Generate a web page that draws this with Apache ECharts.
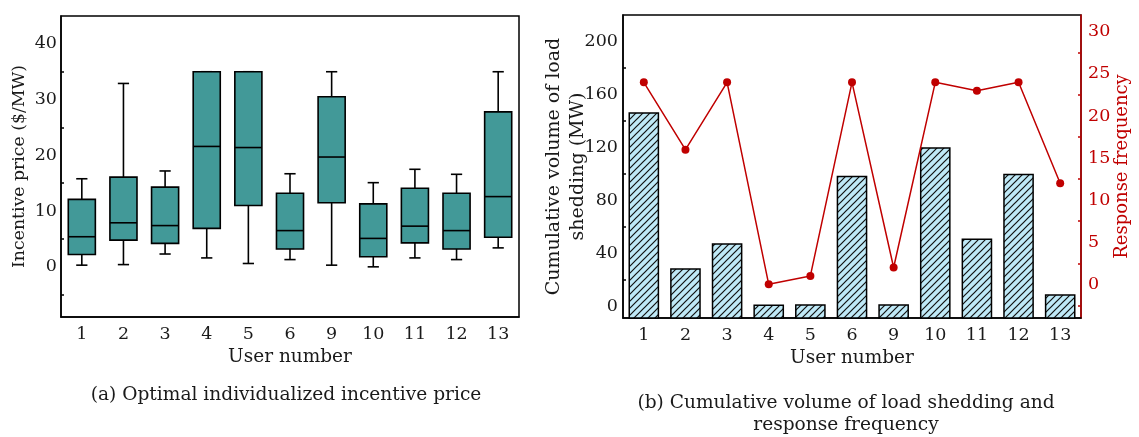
<!DOCTYPE html>
<html>
<head>
<meta charset="utf-8">
<script src="https://cdn.jsdelivr.net/npm/echarts@6/dist/echarts.min.js"></script>
<style>
  html, body { margin: 0; padding: 0; background: #fff; }
  #chart { width: 1139px; height: 437px; }
</style>
</head>
<body>
<div id="chart"></div>
<script>
// User categories shared by both panels
const users = ['1', '2', '3', '4', '5', '6', '9', '10', '11', '12', '13'];

// Panel (a): incentive price distribution per user ($/MW)
const priceLow    = [0.3, 0.4, 2.3, 1.6, 0.6, 1.3, 0.3, 0.0, 1.6, 1.3, 3.4];
const priceQ1     = [2.2, 4.8, 4.2, 6.9, 11.0, 3.2, 11.5, 1.8, 4.3, 3.2, 5.3];
const priceMedian = [5.4, 7.9, 7.4, 21.6, 21.4, 6.5, 19.7, 5.1, 7.3, 6.5, 12.6];
const priceQ3     = [12.1, 16.1, 14.3, 35.0, 35.0, 13.2, 30.5, 11.3, 14.1, 13.2, 27.8];
const priceHigh   = [15.8, 32.9, 17.2, 35.0, 35.0, 16.7, 35.0, 15.1, 17.5, 16.6, 35.0];

// Panel (b): cumulative load shedding (MW) and response frequency
const shedding  = [146, 28, 47, 0.6, 0.8, 98, 0.8, 119.5, 50.5, 99.5, 8.3];
const frequency = [24, 16, 24, 0, 1, 24, 2, 24, 23, 24, 12];

// Tick labels
const priceTicks      = [0, 10, 20, 30, 40];
const priceMinor      = [-5, 5, 15, 25, 35];
const sheddingTicks   = [0, 40, 80, 120, 160, 200];
const sheddingMinor   = [20, 60, 100, 140, 180];
const frequencyTicks  = [0, 5, 10, 15, 20, 25, 30];
const frequencyMinor  = [-2.5, 2.5, 7.5, 12.5, 17.5, 22.5, 27.5];

const FONT = 'DejaVu Serif';
const FS_TICK = 17.5;
const FS_NAME = 18.5;
const INK = '#1a1a1a';
const RED = '#c00000';
const TEAL = '#429998';
const BAR_BG = '#bfe9f7';

// Diagonal hatch pattern for the shedding bars
function makeHatch() {
  const s = 7;
  const c = document.createElement('canvas');
  c.width = s; c.height = s;
  const g = c.getContext('2d');
  g.fillStyle = BAR_BG;
  g.fillRect(0, 0, s, s);
  g.strokeStyle = '#111';
  g.lineWidth = 1.2;
  g.beginPath();
  g.moveTo(-1, s + 1); g.lineTo(s + 1, -1);
  g.moveTo(-1, 1); g.lineTo(1, -1);
  g.moveTo(s - 1, s + 1); g.lineTo(s + 1, s - 1);
  g.stroke();
  return { image: c, repeat: 'repeat' };
}
const hatch = makeHatch();

function renderBox(params, api) {
  const i = api.value(0);
  const lo = api.coord([i, api.value(1)]);
  const q1 = api.coord([i, api.value(2)]);
  const md = api.coord([i, api.value(3)]);
  const q3 = api.coord([i, api.value(4)]);
  const hi = api.coord([i, api.value(5)]);
  const band = api.size([1, 0])[0];
  const bw = band * 0.65;
  const cw = band * 0.27;
  const cx = lo[0];
  const ls = { stroke: '#000', lineWidth: 1.6 };
  return {
    type: 'group',
    children: [
      { type: 'line', shape: { x1: cx, y1: lo[1], x2: cx, y2: q1[1] }, style: ls },
      { type: 'line', shape: { x1: cx, y1: q3[1], x2: cx, y2: hi[1] }, style: ls },
      { type: 'line', shape: { x1: cx - cw / 2, y1: lo[1], x2: cx + cw / 2, y2: lo[1] }, style: ls },
      { type: 'line', shape: { x1: cx - cw / 2, y1: hi[1], x2: cx + cw / 2, y2: hi[1] }, style: ls },
      { type: 'rect', shape: { x: cx - bw / 2, y: q3[1], width: bw, height: q1[1] - q3[1] },
        style: { fill: TEAL, stroke: '#000', lineWidth: 1.6 } },
      { type: 'line', shape: { x1: cx - bw / 2, y1: md[1], x2: cx + bw / 2, y2: md[1] }, style: ls }
    ]
  };
}

function renderBar(params, api) {
  const i = api.value(0);
  const top = api.coord([i, api.value(1)]);
  const bottom = params.coordSys.y + params.coordSys.height;
  const bw = api.size([1, 0])[0] * 0.7;
  return {
    type: 'rect',
    shape: { x: top[0] - bw / 2, y: top[1], width: bw, height: bottom - top[1] },
    style: { fill: hatch, stroke: '#000', lineWidth: 1.5 }
  };
}

const tickStyle = { fontFamily: FONT, fontSize: FS_TICK, color: INK };
const nameStyle = { fontFamily: FONT, fontSize: FS_NAME, color: INK };

function catAxis(gridIndex) {
  return {
    type: 'category', gridIndex, data: users,
    name: 'User number', nameLocation: 'middle', nameGap: 29,
    nameTextStyle: nameStyle,
    axisLine: { onZero: false, lineStyle: { color: '#000', width: 1.5 } },
    axisTick: { inside: true, alignWithLabel: true, length: 5, lineStyle: { color: '#000', width: 1.5 } },
    axisLabel: Object.assign({ margin: 8 }, tickStyle),
    splitLine: { show: false }
  };
}

function minorAxis(gridIndex, position, min, max, values, color) {
  return {
    type: 'value', gridIndex, position, min, max,
    axisLine: { show: false },
    axisLabel: { show: false },
    axisTick: { show: true, inside: true, length: 3, customValues: values, lineStyle: { color, width: 1.5 } },
    splitLine: { show: false }
  };
}

const chart = echarts.init(document.getElementById('chart'));
chart.setOption({
  animation: false,
  grid: [
    { left: 61, right: 620, top: 16, bottom: 120, show: true, borderColor: '#000', borderWidth: 1.5 },
    { left: 623, right: 58, top: 15, bottom: 119, show: true, borderColor: '#000', borderWidth: 1.5 }
  ],
  xAxis: [catAxis(0), catAxis(1)],
  yAxis: [
    {
      type: 'value', gridIndex: 0, position: 'left', min: -9, max: 45,
      name: 'Incentive price ($/MW)', nameLocation: 'middle', nameGap: 33, nameRotate: 90,
      nameMoveOverlap: false,
      nameTextStyle: Object.assign({}, nameStyle, { fontSize: 17.3 }),
      axisLine: { show: true, onZero: false, lineStyle: { color: '#000', width: 1.5 } },
      axisTick: { inside: true, length: 5, customValues: priceTicks, lineStyle: { color: '#000', width: 1.5 } },
      axisLabel: Object.assign({ margin: 4, customValues: priceTicks }, tickStyle),
      splitLine: { show: false }
    },
    minorAxis(0, 'left', -9, 45, priceMinor, '#000'),
    {
      type: 'value', gridIndex: 1, position: 'left', min: -9, max: 220,
      name: 'Cumulative volume of load\nshedding (MW)', nameLocation: 'middle', nameGap: 33, nameRotate: 90,
      nameMoveOverlap: false,
      nameTextStyle: Object.assign({ lineHeight: 24 }, nameStyle, { fontSize: 19 }),
      axisLine: { show: true, onZero: false, lineStyle: { color: '#000', width: 1.5 } },
      axisTick: { inside: true, length: 5, customValues: sheddingTicks, lineStyle: { color: '#000', width: 1.5 } },
      axisLabel: Object.assign({ margin: 5, customValues: sheddingTicks }, tickStyle),
      splitLine: { show: false }
    },
    minorAxis(1, 'left', -9, 220, sheddingMinor, '#000'),
    {
      type: 'value', gridIndex: 1, position: 'right', min: -4, max: 32,
      name: 'Response frequency', nameLocation: 'middle', nameGap: 32, nameRotate: 90,
      nameMoveOverlap: false,
      nameTextStyle: Object.assign({}, nameStyle, { color: RED, fontSize: 18 }),
      axisLine: { show: true, onZero: false, lineStyle: { color: RED, width: 1.5 } },
      axisTick: { inside: true, length: 5, customValues: frequencyTicks, lineStyle: { color: RED, width: 1.5 } },
      axisLabel: Object.assign({ margin: 7, customValues: frequencyTicks }, tickStyle, { color: RED }),
      splitLine: { show: false }
    },
    minorAxis(1, 'right', -4, 32, frequencyMinor, RED)
  ],
  series: [
    {
      type: 'custom', xAxisIndex: 0, yAxisIndex: 0, z: 3,
      renderItem: renderBox,
      encode: { x: 0, y: [1, 2, 3, 4, 5] },
      data: users.map((u, i) => [i, priceLow[i], priceQ1[i], priceMedian[i], priceQ3[i], priceHigh[i]])
    },
    {
      type: 'custom', xAxisIndex: 1, yAxisIndex: 2, z: 2,
      renderItem: renderBar,
      encode: { x: 0, y: 1 },
      data: users.map((u, i) => [i, shedding[i]])
    },
    {
      type: 'line', xAxisIndex: 1, yAxisIndex: 4, z: 4,
      data: frequency,
      symbol: 'circle', symbolSize: 8,
      itemStyle: { color: RED },
      lineStyle: { color: RED, width: 1.5 }
    }
  ],
  graphic: [
    { type: 'text', x: 286, y: 386,
      style: { text: '(a) Optimal individualized incentive price', textAlign: 'center',
               font: '18.6px "' + FONT + '"', fill: INK } },
    { type: 'text', x: 846, y: 392,
      style: { text: '(b) Cumulative volume of load shedding and\nresponse frequency', textAlign: 'center',
               font: '18.6px "' + FONT + '"', lineHeight: 22, fill: INK } }
  ]
});
</script>
</body>
</html>
